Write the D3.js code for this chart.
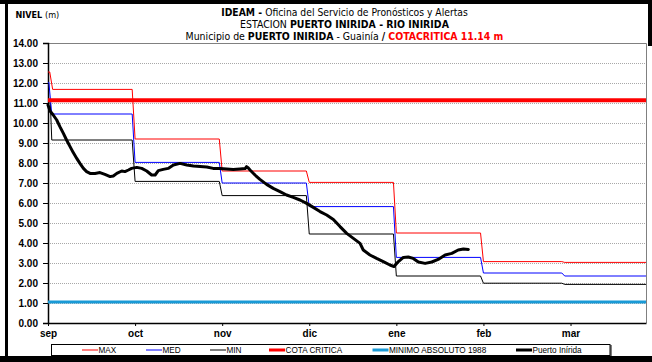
<!DOCTYPE html>
<html>
<head>
<meta charset="utf-8">
<script src="https://cdn.jsdelivr.net/npm/d3@7"></script>
<style>
  html, body { margin: 0; padding: 0; background: #fff; }
  svg { display: block; }
  .narrow { font-family: "Liberation Sans Narrow", "Arial Narrow", "DejaVu Sans Condensed", sans-serif; }
  .sans { font-family: "Liberation Sans", Arial, sans-serif; }
</style>
</head>
<body>
<svg id="chart" width="652" height="362"></svg>
<script>
// Month labels, one every 30 days along the axis
const months = ["sep", "oct", "nov", "dic", "ene", "feb", "mar"];
const monthStep = 30;
const lastDay = 206;

// Level ticks (m)
const levelTicks = [0, 1, 2, 3, 4, 5, 6, 7, 8, 9, 10, 11, 12, 13, 14];

// Historical monthly envelopes: [day, level]
const maxSeries = [[0, 12.55], [0.6, 12.55], [1.6, 11.68], [29, 11.68], [30, 9.2], [59, 9.2], [60, 7.6],
  [89, 7.6], [90, 7.03], [119, 7.03], [120, 4.5], [149, 4.5], [150, 3.07], [177, 3.07], [178, 3.03], [206, 3.03]];
const medSeries = [[0, 12.03], [0.3, 12.03], [1.3, 10.45], [29, 10.45], [30, 8.03], [59, 8.03], [60, 7.0],
  [89, 7.0], [90, 5.82], [119, 5.82], [120, 3.28], [149, 3.28], [150, 2.5], [177, 2.5], [178, 2.35], [206, 2.35]];
const minSeries = [[0, 11.0], [0.8, 11.0], [1.3, 9.15], [29, 9.15], [30, 7.08], [59, 7.08], [60, 6.37],
  [89, 6.37], [90, 4.45], [119, 4.45], [120, 2.35], [149, 2.35], [150, 1.99], [177, 1.99], [178, 1.93], [206, 1.93]];

// Reference levels
const cotaCritica = 11.14;
const minimoAbsoluto = 1.05;

// Observed level at Puerto Inírida: [day, level]
const observed = [
  [0, 10.9], [0.7, 10.6], [1.8, 10.4], [3.0, 10.15], [4.1, 9.82], [5.3, 9.48], [6.4, 9.15], [7.6, 8.82],
  [8.7, 8.52], [9.9, 8.23], [11.0, 7.98], [12.2, 7.73], [13.3, 7.57], [14.5, 7.48], [16.2, 7.48], [17.9, 7.52],
  [19.6, 7.43], [21.4, 7.32], [22.5, 7.35], [23.7, 7.48], [25.4, 7.6], [26.5, 7.57], [27.7, 7.65], [28.8, 7.73],
  [30.6, 7.78], [32.3, 7.73], [34.0, 7.6], [35.7, 7.4], [36.9, 7.4], [38.0, 7.62], [39.7, 7.68], [41.4, 7.73],
  [43.2, 7.9], [45.5, 7.98], [47.8, 7.9], [50.1, 7.85], [52.4, 7.83], [54.7, 7.8], [56.9, 7.73], [59.2, 7.72],
  [61.6, 7.7], [63.8, 7.68], [66.1, 7.7], [67.9, 7.72], [68.4, 7.82], [69.0, 7.75], [69.6, 7.65], [71.3, 7.4],
  [73.0, 7.18], [75.3, 6.93], [77.6, 6.73], [79.9, 6.57], [82.2, 6.4], [84.5, 6.28], [86.8, 6.15], [89.1, 5.98],
  [91.4, 5.78], [93.7, 5.57], [96.0, 5.4], [98.3, 5.18], [100.6, 4.82], [102.9, 4.48], [105.2, 4.23], [107.5, 3.98],
  [108.6, 3.65], [110.9, 3.4], [113.2, 3.23], [115.5, 3.07], [117.8, 2.9], [119.2, 2.82], [120.7, 3.07], [122.4, 3.28],
  [124.1, 3.3], [125.8, 3.23], [127.6, 3.05], [129.9, 2.98], [132.2, 3.05], [134.4, 3.18], [136.8, 3.4], [139.1, 3.48],
  [141.3, 3.65], [143.1, 3.7], [144.8, 3.68]
];

const svg = d3.select("#chart");
const W = 652, H = 362;
const plot = { left: 48, right: 646, top: 43, bottom: 323 };

const x = d3.scaleLinear().domain([0, lastDay]).range([plot.left, plot.right]);
const y = d3.scaleLinear().domain([0, 14]).range([plot.bottom, plot.top]);

// Outer frame
svg.append("rect").attr("x", 0).attr("y", 0).attr("width", W).attr("height", 4).attr("fill", "#000");
svg.append("rect").attr("x", 5).attr("y", 0).attr("width", 3).attr("height", H).attr("fill", "#000");
svg.append("rect").attr("x", 0).attr("y", 356).attr("width", W).attr("height", 6).attr("fill", "#000");
svg.append("rect").attr("x", 648).attr("y", 0).attr("width", 4).attr("height", 46).attr("fill", "#000");

// Titles: each line is drawn at natural width, then squeezed horizontally to its target width
const titleX = 344.5;
function titleLine(baseline, targetWidth, parts) {
  const g = svg.append("g");
  const t = g.append("text").attr("class", "narrow").attr("x", 0).attr("y", 0)
    .attr("text-anchor", "middle").attr("font-size", 11).attr("fill", "#000");
  parts.forEach(p => {
    const s = t.append("tspan").text(p.text);
    if (p.bold) s.attr("font-weight", "bold");
    if (p.color) s.attr("fill", p.color);
  });
  const natural = t.node().getComputedTextLength() || targetWidth;
  const sx = Math.min(1, targetWidth / natural);
  g.attr("transform", `translate(${titleX},${baseline}) scale(${sx},1)`);
}
titleLine(16, 247, [
  { text: "IDEAM - ", bold: true },
  { text: "Oficina del Servicio de Pronósticos y Alertas" }
]);
titleLine(28, 209, [
  { text: "ESTACION " },
  { text: "PUERTO INIRIDA - RIO INIRIDA", bold: true }
]);
titleLine(40, 318, [
  { text: "Municipio de " },
  { text: "PUERTO INIRIDA", bold: true },
  { text: " - Guainía " },
  { text: "/ ", bold: true },
  { text: "COTACRITICA 11.14 m", bold: true, color: "#ff0000" }
]);

const nivel = svg.append("text").attr("class", "narrow").attr("x", 15.5).attr("y", 18)
  .attr("font-size", 9).attr("fill", "#000");
nivel.append("tspan").attr("font-weight", "bold").text("NIVEL ");
nivel.append("tspan").text("(m)");

// Gridlines (dotted)
svg.append("g").selectAll("line").data(levelTicks.filter(v => v > 0 && v < 14)).join("line")
  .attr("x1", plot.left).attr("x2", plot.right)
  .attr("y1", d => y(d) + 0.5).attr("y2", d => y(d) + 0.5)
  .attr("stroke", "#a8a8a8").attr("stroke-width", 1).attr("stroke-dasharray", "1,1");

// Plot border (top, right)
svg.append("path")
  .attr("d", `M${plot.left},${plot.top + 0.5}H${plot.right + 0.5}V${plot.bottom}`)
  .attr("fill", "none").attr("stroke", "#808080").attr("stroke-width", 1);

// Axes
const yAxis = d3.axisLeft(y).tickValues(levelTicks).tickFormat(d3.format(".2f")).tickSize(5).tickPadding(5);
const gy = svg.append("g").attr("transform", `translate(${plot.left},0)`).call(yAxis);
gy.select(".domain").attr("stroke", "#000").attr("stroke-width", 1.5);
gy.selectAll(".tick line").attr("stroke", "#000");
gy.selectAll(".tick text").attr("class", "sans").attr("font-size", 10).attr("font-weight", "bold").attr("fill", "#000");

const xAxis = d3.axisBottom(x).tickValues(months.map((m, i) => i * monthStep))
  .tickFormat((d, i) => months[i]).tickSize(3).tickPadding(4).tickSizeOuter(0);
const gx = svg.append("g").attr("transform", `translate(0,${plot.bottom})`).call(xAxis);
gx.select(".domain").attr("stroke", "#000").attr("stroke-width", 1.5);
gx.selectAll(".tick line").attr("stroke", "#000");
gx.selectAll(".tick text").attr("class", "sans").attr("font-size", 10).attr("font-weight", "bold").attr("fill", "#000");

// Series
const line = d3.line().x(d => x(d[0])).y(d => y(d[1]));

svg.append("line").attr("x1", plot.left).attr("x2", plot.right)
  .attr("y1", y(minimoAbsoluto)).attr("y2", y(minimoAbsoluto))
  .attr("stroke", "#1a9ad6").attr("stroke-width", 3);

svg.append("path").datum(minSeries).attr("d", line).attr("fill", "none").attr("stroke", "#000").attr("stroke-width", 1);
svg.append("path").datum(medSeries).attr("d", line).attr("fill", "none").attr("stroke", "#0000ff").attr("stroke-width", 1);
svg.append("path").datum(maxSeries).attr("d", line).attr("fill", "none").attr("stroke", "#ff0000").attr("stroke-width", 1);

svg.append("line").attr("x1", plot.left).attr("x2", plot.right)
  .attr("y1", y(cotaCritica)).attr("y2", y(cotaCritica))
  .attr("stroke", "#ff0000").attr("stroke-width", 4);

svg.append("path").datum(observed).attr("d", line).attr("fill", "none")
  .attr("stroke", "#000").attr("stroke-width", 3).attr("stroke-linejoin", "round").attr("stroke-linecap", "round");

// Legend
const legendItems = [
  { label: "MAX", color: "#ff0000", width: 1, x0: 82 },
  { label: "MED", color: "#0000ff", width: 1, x0: 146 },
  { label: "MIN", color: "#000", width: 1, x0: 210 },
  { label: "COTA CRITICA", color: "#ff0000", width: 3, x0: 269 },
  { label: "MINIMO ABSOLUTO 1988", color: "#1a9ad6", width: 3, x0: 372.5 },
  { label: "Puerto Inírida", color: "#000", width: 3, x0: 516 }
];
svg.append("rect").attr("x", 51.5).attr("y", 344.5).attr("width", 558.5).attr("height", 11)
  .attr("fill", "#fff").attr("stroke", "#000").attr("stroke-width", 1);
svg.append("line").attr("x1", 611).attr("x2", 611).attr("y1", 345).attr("y2", 356).attr("stroke", "#000").attr("stroke-width", 1);
const lg = svg.append("g").selectAll("g").data(legendItems).join("g");
lg.append("line").attr("x1", d => d.x0).attr("x2", d => d.x0 + 16)
  .attr("y1", 350).attr("y2", 350)
  .attr("stroke", d => d.color).attr("stroke-width", d => d.width);
lg.append("text").attr("class", "sans").attr("x", d => d.x0 + 16.5).attr("y", 353)
  .attr("font-size", 8.2).attr("fill", "#000").text(d => d.label);
</script>
</body>
</html>
